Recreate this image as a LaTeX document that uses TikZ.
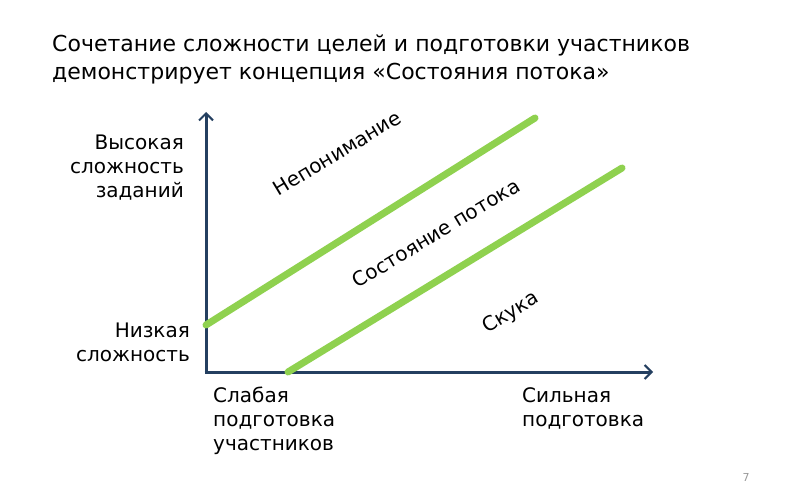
\documentclass[tikz,border=0pt]{standalone}
\usepackage{fontspec}
\setmainfont{DejaVu Sans}
\usetikzlibrary{arrows.meta}
\definecolor{axis}{HTML}{243F60}
\definecolor{lgreen}{HTML}{8FD14F}
\tikzset{
  axisline/.style={draw=axis, line width=3pt, -{Straight Barb[length=7pt,width=14pt,line width=2pt]}},
  zone/.style={draw=lgreen, line width=7pt, line cap=round},
  lbl/.style={font=\fontsize{20}{24}\selectfont, inner sep=0pt},
  zlbl/.style={font=\fontsize{20}{24}\selectfont, inner sep=0pt, rotate=31}
}
\begin{document}
\begin{tikzpicture}[x=1pt,y=-1pt]
\useasboundingbox (0,0) rectangle (800,500);
\fill[white] (0,0) rectangle (800,500);
\node[font=\fontsize{22}{28}\selectfont, inner sep=0pt, anchor=west, align=left] (title) at (52,59)
  {Сочетание сложности целей и подготовки участников\\демонстрирует концепция «Состояния потока»};
\coordinate (ytop) at (206,112);
\coordinate (xend) at (653,372);
\draw[axisline] (206,373.5) -- (ytop);
\draw[axisline] (204.5,372) -- (xend);
\coordinate (a1) at (206,325);
\coordinate (b1) at (535,118);
\coordinate (a2) at (288,372);
\coordinate (b2) at (622,168);
\draw[zone] (a1) -- (b1);
\draw[zone] (a2) -- (b2);
\node[zlbl] (nep) at (337,153) {Непонимание};
\node[zlbl] (flow) at (436,233) {Состояние потока};
\node[zlbl] (bore) at (511,313) {Скука};
\node[lbl, anchor=north east, align=right] (high) at (184,135) {Высокая\\сложность\\заданий};
\node[lbl, anchor=north east, align=right] (low) at (190,323) {Низкая\\сложность};
\node[lbl, anchor=north west, align=left] (weak) at (213,387) {Слабая\\подготовка\\участников};
\node[lbl, anchor=north west, align=left] (strong) at (522,387) {Сильная\\подготовка};
\node[font=\fontsize{11}{13}\selectfont, text=gray!80, inner sep=0pt] (pg) at (746,477) {7};
\end{tikzpicture}
\end{document}
